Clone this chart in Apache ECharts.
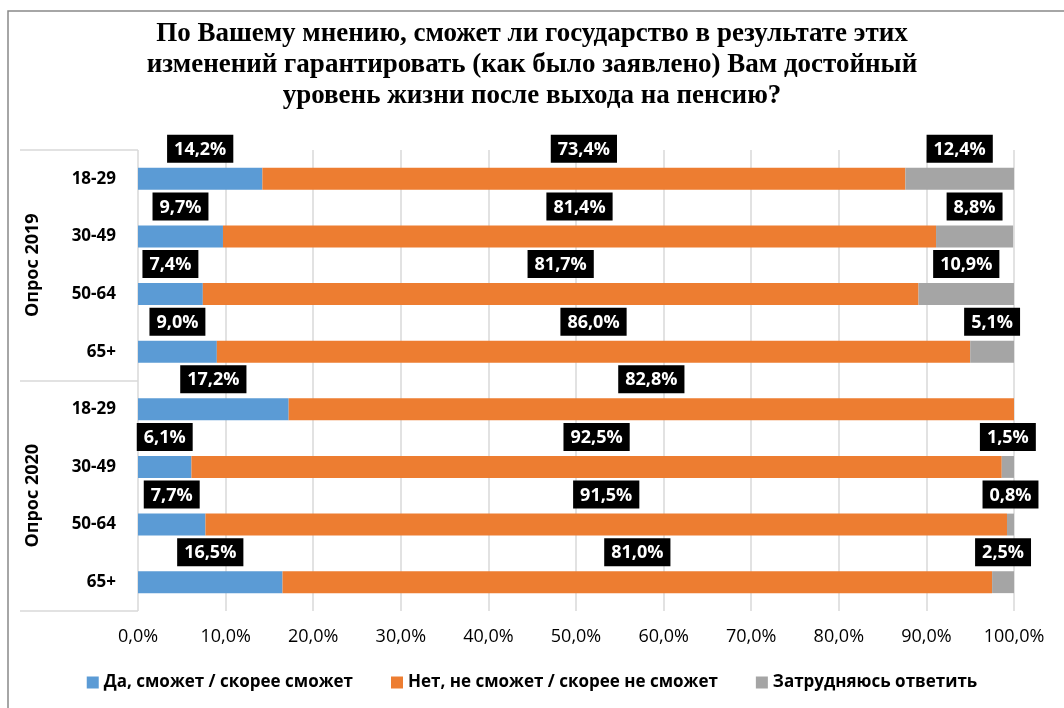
<!DOCTYPE html>
<html>
<head>
<meta charset="utf-8">
<script src="https://cdn.jsdelivr.net/npm/echarts@6/dist/echarts.min.js"></script>
<style>
html,body{margin:0;padding:0;background:#fff;}
#chart{width:1064px;height:708px;}
</style>
</head>
<body>
<div id="chart"></div>
<script>
const titleText = 'По Вашему мнению, сможет ли государство в результате этих\nизменений гарантировать (как было заявлено) Вам достойный\nуровень жизни после выхода на пенсию?';
const groups = ['Опрос 2019', 'Опрос 2020'];
const ages = ['18-29', '30-49', '50-64', '65+'];
const seriesNames = ['Да, сможет / скорее сможет', 'Нет, не сможет / скорее не сможет', 'Затрудняюсь ответить'];
const yesValues = [14.2, 9.7, 7.4, 9.0, 17.2, 6.1, 7.7, 16.5];
const noValues = [73.4, 81.4, 81.7, 86.0, 82.8, 92.5, 91.5, 81.0];
const hardValues = [12.4, 8.8, 10.9, 5.1, 0, 1.5, 0.8, 2.5];
const xTicks = [0, 10, 20, 30, 40, 50, 60, 70, 80, 90, 100];
const colors = ['#5B9BD5', '#ED7D31', '#A5A5A5'];

const rowKeys = [];
groups.forEach(g => ages.forEach(a => rowKeys.push(g + '|' + a)));

const fmtPct = v => v.toFixed(1).replace('.', ',') + '%';
const FONT = '"Open Sans", "Noto Sans", sans-serif';

function makeSeries(name, values, color) {
  return {
    name: name,
    type: 'bar',
    stack: 'total',
    barWidth: '38%',
    itemStyle: { color: color },
    emphasis: { disabled: true },
    data: values.map(v => ({
      value: v,
      label: { show: v > 0 }
    })),
    label: {
      show: true,
      position: 'top',
      distance: 5,
      formatter: p => fmtPct(p.value),
      backgroundColor: '#000000',
      color: '#ffffff',
      fontFamily: FONT,
      fontWeight: 'bold',
      fontSize: 18,
      padding: [6, 7, 4, 7]
    }
  };
}

const chart = echarts.init(document.getElementById('chart'), null, { renderer: 'canvas' });
chart.setOption({
  animation: false,
  backgroundColor: '#ffffff',
  title: {
    text: titleText,
    left: 'center',
    top: 14,
    textStyle: {
      fontFamily: '"Liberation Serif", "Times New Roman", serif',
      fontWeight: 'bold',
      fontSize: 27,
      lineHeight: 31,
      color: '#000000'
    }
  },
  graphic: [{
    type: 'rect',
    z: -10,
    shape: { x: 8, y: 11, width: 1100, height: 800 },
    style: { fill: 'none', stroke: '#898989', lineWidth: 1.5 }
  }],
  legend: {
    bottom: 12,
    left: 'center',
    icon: 'rect',
    itemWidth: 12,
    itemHeight: 12,
    itemGap: 38,
    data: seriesNames,
    textStyle: {
      fontFamily: FONT,
      fontWeight: 'bold',
      fontSize: 17,
      color: '#000000'
    }
  },
  grid: { left: 138, right: 50, top: 150, bottom: 97 },
  xAxis: {
    type: 'value',
    min: xTicks[0],
    max: xTicks[xTicks.length - 1],
    interval: xTicks[1] - xTicks[0],
    axisLine: { show: false },
    axisTick: { show: false },
    splitLine: { show: true, lineStyle: { color: '#d9d9d9', width: 1.5 } },
    axisLabel: {
      formatter: v => fmtPct(v),
      margin: 17,
      fontFamily: FONT,
      fontSize: 18,
      color: '#000000'
    }
  },
  yAxis: [{
    type: 'category',
    inverse: true,
    data: rowKeys,
    axisLine: { show: false },
    axisTick: { show: false },
    axisLabel: {
      formatter: v => v.split('|')[1],
      margin: 22,
      fontFamily: FONT,
      fontWeight: 'bold',
      fontSize: 17,
      color: '#000000'
    }
  }, {
    type: 'category',
    inverse: true,
    position: 'left',
    offset: 92,
    data: groups,
    axisLine: { show: false },
    axisTick: { show: false },
    axisLabel: {
      rotate: 90,
      margin: 4,
      fontFamily: FONT,
      fontWeight: 'bold',
      fontSize: 18,
      color: '#000000'
    }
  }, {
    type: 'category',
    inverse: true,
    position: 'left',
    offset: 118,
    data: groups,
    axisLine: { show: false },
    axisLabel: { show: false },
    axisTick: {
      show: true,
      inside: true,
      length: 118,
      lineStyle: { color: '#d9d9d9', width: 1.5 }
    }
  }],
  series: [
    makeSeries(seriesNames[0], yesValues, colors[0]),
    makeSeries(seriesNames[1], noValues, colors[1]),
    makeSeries(seriesNames[2], hardValues, colors[2])
  ]
});
</script>
</body>
</html>
